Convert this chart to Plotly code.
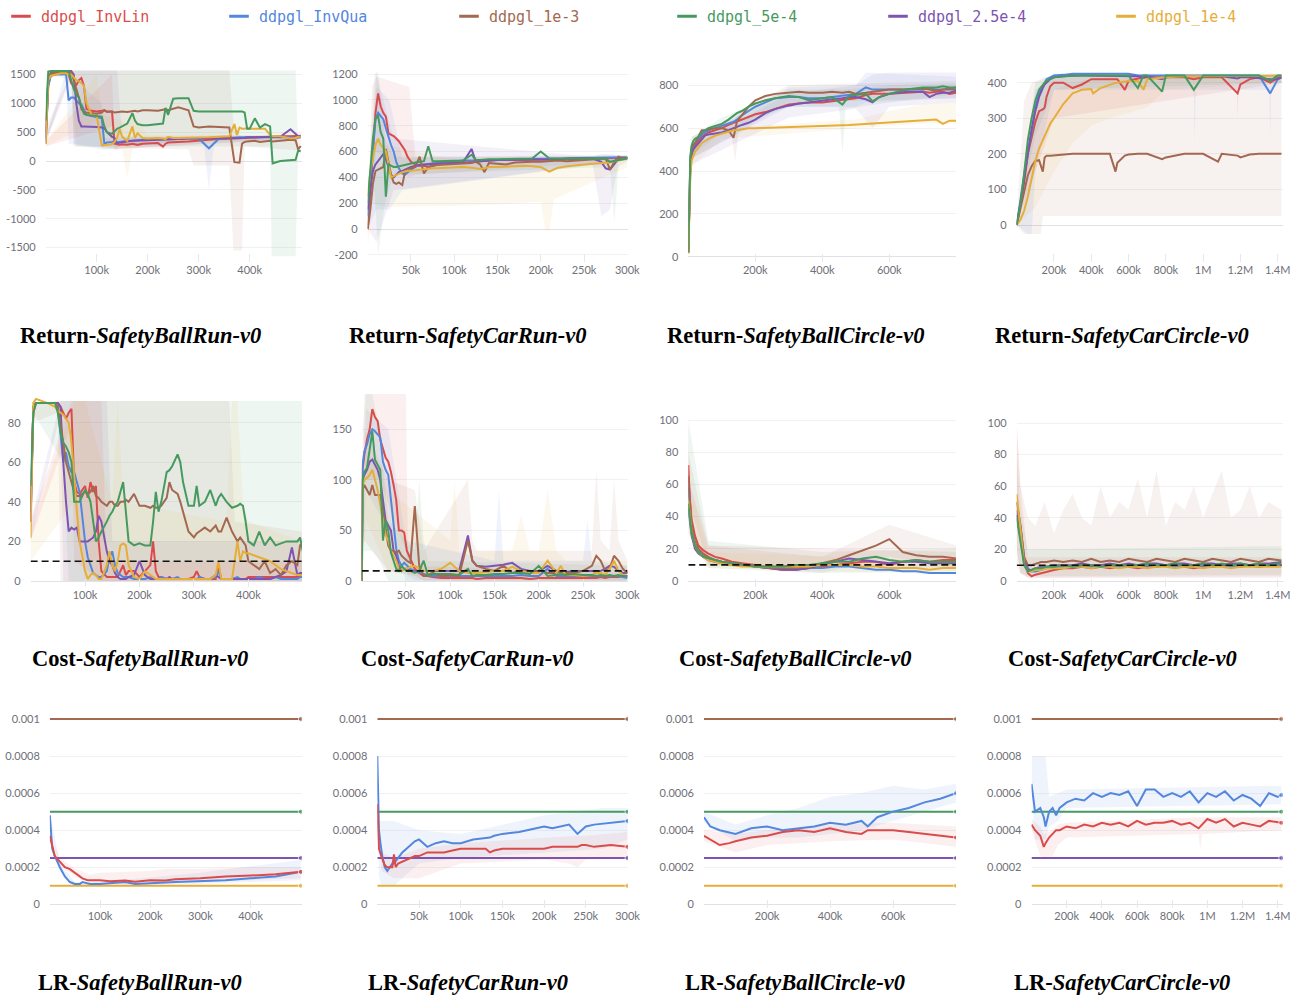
import plotly.graph_objects as go

W, H = 1304, 998

KEYS = ["InvLin", "InvQua", "1e-3", "5e-4", "2.5e-4", "1e-4"]
NAMES = ["ddpgl_InvLin", "ddpgl_InvQua", "ddpgl_1e-3", "ddpgl_5e-4", "ddpgl_2.5e-4", "ddpgl_1e-4"]
COLORS = {"InvLin": "#DA4C4C", "InvQua": "#5387DD", "1e-3": "#A46750",
          "5e-4": "#479A5F", "2.5e-4": "#7D54B2", "1e-4": "#E5AE38"}
DRAW_ORDER = ["InvLin", "InvQua", "2.5e-4", "1e-3", "1e-4", "5e-4"]

# ---------------- tick labels ----------------
XT_C1 = [100, 200, 300, 400]
XT_C2 = [50, 100, 150, 200, 250, 300]
XT_C3 = [200, 400, 600]
XT_C4 = [200, 400, 600, 800, 1000, 1200, 1400]
XTT_C1 = ["100k", "200k", "300k", "400k"]
XTT_C2 = ["50k", "100k", "150k", "200k", "250k", "300k"]
XTT_C3 = ["200k", "400k", "600k"]
XTT_C4 = ["200k", "400k", "600k", "800k", "1M", "1.2M", "1.4M"]
YT_R1C1 = [-1500, -1000, -500, 0, 500, 1000, 1500]
YT_R1C2 = [-200, 0, 200, 400, 600, 800, 1000, 1200]
YT_R1C3 = [0, 200, 400, 600, 800]
YT_R1C4 = [0, 100, 200, 300, 400]
YT_R2C1 = [0, 20, 40, 60, 80]
YT_R2C2 = [0, 50, 100, 150]
YT_R2C3 = [0, 20, 40, 60, 80, 100]
YT_R2C4 = [0, 20, 40, 60, 80, 100]
YT_LR = [0, 0.0002, 0.0004, 0.0006, 0.0008, 0.001]
YTT_LR = ["0", "0.0002", "0.0004", "0.0006", "0.0008", "0.001"]

COST_LIMIT = 10
LR_CONST = {"1e-3": 0.001, "5e-4": 0.0005, "2.5e-4": 0.00025, "1e-4": 0.0001}

# ---------------- Return - SafetyBallRun-v0 (steps in k) ----------------
RET_BR_X = [0,5,10,20,30,40,45,50,55,60,65,70,75,80,90,100,110,115,120,130,135,140,145,150,160,170,175,180,190,200,220,230,235,240,250,260,280,290,300,320,340,360,370,375,380,385,390,395,400,410,420,430,440,445,460,480,490,495,500]
RET_BR_INVLIN = [300,1300,1500,1520,1520,1520,1500,1350,1300,1320,1400,1440,1300,900,870,860,870,880,860,860,300,290,280,290,280,300,290,280,300,300,310,250,300,320,320,330,340,350,360,370,380,390,390,400,400,400,400,410,410,410,420,420,420,420,430,430,440,440,440]
RET_BR_INVQUA = [350,1300,1480,1500,1500,1500,1050,1100,1100,1050,1000,980,900,800,780,760,740,300,320,330,340,320,330,340,350,350,360,360,370,370,380,380,380,380,380,380,390,390,390,220,390,400,410,410,410,410,410,410,420,420,420,410,410,410,410,410,400,410,410]
RET_BR_1E3 = [500,1400,1520,1540,1540,1540,1540,1540,1400,1250,1100,900,850,840,830,820,840,880,850,860,840,850,860,860,850,860,870,860,880,880,870,890,900,880,900,930,880,600,580,600,590,580,-20,-30,-30,300,330,340,340,350,330,340,350,340,350,370,360,200,260]
RET_BR_5E4 = [700,1550,1560,1560,1560,1560,1560,1400,1250,1150,1100,950,820,800,790,780,770,600,500,470,520,560,580,600,650,830,700,640,620,620,640,650,920,800,1080,1090,1090,870,860,860,860,870,860,860,860,860,840,560,560,740,580,640,600,-40,0,10,20,180,170]
RET_BR_25E5 = [400,1400,1540,1560,1560,1560,1560,1560,1500,1000,700,600,600,600,590,590,580,570,500,420,400,310,320,330,340,350,350,350,360,360,370,370,370,380,380,380,390,390,400,400,400,400,400,400,400,400,400,410,410,410,410,410,410,410,420,550,460,430,430]
RET_BR_1E4 = [300,1400,1480,1500,1520,1520,1500,1500,1450,1400,1380,1350,1300,1000,800,780,270,270,280,290,330,400,550,420,350,600,400,480,400,390,400,390,380,420,400,400,400,400,400,410,420,430,640,450,580,560,560,570,560,560,550,560,450,430,430,390,400,420,420]
RET_BR_BANDS = {
    "1e-3": ([0,50,55,280,290,360,368,385,390,500], [300,1450,250,200,-80,-80,-1550,-1550,250,180], [560,1570,1570,1570,1570,1570,650,400,420,420]),
    "5e-4": ([0,5,50,60,440,443,490,495,500], [650,1500,1400,250,250,-1650,-1650,150,150], [750,1570,1570,1570,1570,1570,1570,200,190]),
    "2.5e-4": ([0,50,55,140,150,500], [350,1500,300,200,300,400], [450,1570,1570,1570,420,450]),
    "1e-4": ([0,100,110,150,160,170,200,500], [250,700,200,200,-300,200,300,380], [350,1500,800,700,650,800,450,450]),
    "InvQua": ([0,40,45,110,115,310,320,330,500], [300,1400,300,200,200,300,-500,300,380], [400,1560,1500,1000,400,420,420,420,430]),
    "InvLin": ([0,130,135,500], [250,600,200,400], [350,1500,350,460]),
}

# ---------------- Return - SafetyCarRun-v0 ----------------
RET_CR_X = [0,3,6,9,12,15,18,21,24,27,30,33,36,40,43,46,50,55,60,65,70,75,80,90,100,110,120,125,130,135,140,150,160,170,180,190,200,210,220,230,240,250,260,270,275,280,285,290,295,300]
RET_CR_INVLIN = [0,300,600,900,1050,950,900,870,740,730,720,700,680,640,610,560,520,500,490,490,480,490,500,505,510,515,520,525,525,530,530,535,535,535,540,540,540,540,540,540,540,545,545,545,545,545,550,550,550,550]
RET_CR_INVQUA = [100,350,650,850,900,870,850,780,710,650,600,520,470,430,420,440,460,480,500,500,505,510,510,515,525,530,530,530,530,530,535,535,540,540,540,540,545,540,545,545,550,550,550,550,550,550,550,550,555,555]
RET_CR_1E3 = [0,150,350,450,460,470,480,620,520,420,360,350,360,340,440,460,470,480,560,430,480,490,495,500,505,510,510,520,500,440,510,505,500,515,520,520,520,525,530,525,530,530,535,540,545,460,520,560,545,550]
RET_CR_5E4 = [200,450,700,850,880,750,700,250,500,490,480,480,485,490,500,505,510,515,520,525,640,525,525,525,530,530,575,535,535,540,540,540,540,540,540,545,600,545,545,545,545,545,550,550,545,520,530,535,540,545]
RET_CR_25E5 = [150,300,450,500,530,560,580,540,480,420,400,420,440,450,460,470,480,490,495,500,500,505,505,510,510,515,620,520,525,530,530,535,535,540,540,540,540,540,540,545,545,545,545,520,470,460,500,545,550,550]
RET_CR_1E4 = [250,450,550,650,700,650,630,600,500,400,410,420,430,440,445,450,450,455,460,465,470,470,470,475,480,480,475,470,465,470,480,480,485,490,490,485,480,445,475,485,495,500,505,510,510,515,525,530,540,545]
RET_CR_BANDS = {
    "InvLin": ([0,5,10,48,55,300], [-50,300,600,400,420,530], [50,1100,1180,1100,560,570]),
    "1e-4": ([0,5,20,100,150,200,205,210,215,300], [-150,200,170,180,190,210,0,-20,230,480], [260,700,650,540,530,540,540,540,540,560]),
    "2.5e-4": ([0,10,30,260,270,280,290,300], [0,-100,300,500,100,150,520,540], [200,1200,700,560,580,580,570,560]),
    "5e-4": ([0,8,12,20,30,280,285,290,300], [100,300,-200,200,420,480,50,480,520], [250,1200,1220,700,560,560,560,560,560]),
    "InvQua": ([0,10,25,40,300], [0,150,150,300,530], [200,1100,1000,550,570]),
}

# ---------------- Return - SafetyBallCircle-v0 ----------------
RET_BC_X = [0,3,6,10,15,20,30,40,50,60,80,100,120,135,145,160,180,200,230,260,300,330,360,400,430,460,480,500,530,550,570,600,650,700,720,740,760,780,800]
RET_BC_INVLIN = [20,280,430,490,510,520,540,560,570,580,590,600,615,625,630,640,655,665,675,690,710,715,720,720,725,730,735,740,755,760,760,760,765,770,765,770,770,760,765]
RET_BC_INVQUA = [20,300,440,500,520,530,550,570,580,590,600,610,620,630,640,660,680,700,720,740,745,745,740,740,745,750,755,760,790,780,780,780,780,780,785,780,780,785,790]
RET_BC_1E3 = [20,300,450,510,520,530,560,590,590,595,600,600,590,555,630,660,700,730,750,760,765,770,765,765,770,765,770,760,765,770,775,780,780,785,780,775,780,780,780]
RET_BC_5E4 = [20,320,470,520,540,550,560,580,590,600,610,620,640,660,670,680,700,715,730,740,750,745,730,740,745,710,750,755,760,725,745,760,780,790,790,790,795,790,790]
RET_BC_25E5 = [20,270,400,480,500,510,530,550,565,570,575,580,590,600,605,615,625,640,670,690,705,715,720,730,735,740,745,745,735,720,745,760,770,770,745,760,765,765,775]
RET_BC_1E4 = [15,200,380,450,475,490,510,530,540,550,565,575,585,590,590,595,600,600,602,604,606,607,608,610,612,614,615,617,620,622,625,627,630,635,637,640,620,635,635]
RET_BC_BANDS = {
    "1e-4": ([0,10,100,500,600,700,800], [0,420,550,600,610,620,620], [40,480,600,640,680,710,720]),
    "5e-4": ([0,10,100,300,450,460,470,600,800], [0,470,580,700,700,480,690,720,760], [40,560,650,780,780,780,780,800,810]),
    "2.5e-4": ([0,10,300,500,550,600,800], [0,430,650,690,600,700,720], [40,520,760,800,850,860,860]),
    "1e-3": ([0,10,130,140,150,300,800], [0,460,560,450,580,720,740], [40,560,640,650,680,800,820]),
    "InvQua": ([0,10,300,500,530,800], [0,460,700,700,720,740], [40,540,790,800,860,840]),
}

# ---------------- Return - SafetyCarCircle-v0 ----------------
RET_CC_X = [0,20,40,60,80,100,120,140,150,160,180,200,250,300,350,400,410,450,500,530,540,580,600,650,680,700,780,800,900,950,1000,1080,1100,1185,1200,1250,1300,1360,1400,1420]
RET_CC_INVLIN = [0,60,120,200,250,290,320,325,330,360,390,400,400,385,395,410,410,410,412,410,410,380,405,412,415,415,415,415,415,410,415,415,415,370,395,410,415,400,415,420]
RET_CC_INVQUA = [0,70,150,210,260,330,370,390,400,410,415,420,422,425,425,425,425,425,425,425,425,425,425,420,420,422,422,422,420,420,420,420,420,420,420,420,420,370,410,415]
RET_CC_1E3 = [0,50,100,140,165,180,182,150,190,195,195,196,198,200,200,200,198,198,200,150,175,195,198,200,200,200,185,190,200,200,200,178,200,195,190,198,200,200,200,200]
RET_CC_5E4 = [0,60,145,240,300,350,380,395,400,405,410,415,418,420,420,420,420,420,422,420,420,420,420,385,420,420,375,420,420,380,420,420,420,420,420,420,420,405,420,420]
RET_CC_25E5 = [0,55,130,200,270,320,360,385,395,400,410,415,418,420,420,420,420,420,420,420,418,418,418,418,415,418,410,415,418,418,420,418,418,412,415,415,412,410,410,415]
RET_CC_1E4 = [0,15,40,80,130,180,215,240,250,265,285,300,340,370,380,382,370,385,395,400,400,403,405,405,380,410,415,415,418,418,418,418,418,418,418,418,418,420,420,420]
RET_CC_BANDS = {
    "1e-3": ([0,40,80,130,140,150,200,1420], [0,-25,-25,-25,25,25,25,25], [10,350,400,410,415,415,420,420]),
    "1e-4": ([0,100,200,300,400,500,700,800,1420], [0,50,150,230,280,300,330,380,400], [10,300,380,400,410,415,420,420,422]),
    "InvLin": ([0,100,200,1180,1185,1190,1420], [0,150,300,380,300,380,400], [10,350,420,420,420,420,422]),
    "InvQua": ([0,60,80,100,200,950,955,960,1355,1360,1365,1420], [0,-25,-25,150,380,380,230,380,380,250,380,400], [10,250,300,380,425,425,425,425,425,425,425,425]),
    "5e-4": ([0,100,200,1420], [0,250,380,400], [10,400,425,425]),
}

# ---------------- Cost - SafetyBallRun-v0 ----------------
COST_BR_X = [0,5,10,20,30,45,50,55,60,65,70,75,80,85,90,100,105,110,115,120,125,130,140,145,150,155,160,165,170,175,180,190,200,210,220,225,230,235,240,250,255,260,270,275,280,290,300,305,310,320,330,340,345,350,360,370,380,385,390,395,400,410,420,430,440,450,460,470,480,490,495,500]
COST_BR_INVLIN = [30,88,90,90,90,90,90,88,85,82,85,87,50,45,44,48,42,50,45,48,20,5,2,2,2,2,2,5,8,3,5,5,2,5,8,20,5,2,2,1,1,1,1,1,1,1,2,5,2,1,1,1,8,1,1,1,1,1,1,1,2,2,2,2,2,2,2,2,2,2,2,2]
COST_BR_INVQUA = [35,88,90,90,90,90,88,75,60,65,58,55,55,50,45,20,12,8,4,3,2,2,5,12,15,8,4,3,2,2,2,1,1,1,2,1,1,1,2,1,1,1,2,1,1,1,1,1,2,1,1,2,5,1,1,1,2,1,1,1,1,1,2,1,1,2,1,1,1,1,2,2]
COST_BR_1E3 = [40,85,90,90,90,90,88,80,70,60,55,50,45,43,43,45,44,45,48,43,42,40,38,40,40,38,38,40,40,41,40,44,38,38,37,38,37,37,38,42,50,46,44,40,35,25,22,24,25,27,25,28,25,25,32,25,20,22,20,18,10,8,6,10,4,6,3,8,10,8,18,19]
COST_BR_5E4 = [48,85,90,90,90,90,85,75,70,68,65,60,40,40,40,46,44,40,30,20,22,25,30,33,35,38,40,45,50,35,20,18,19,18,18,30,45,35,40,55,56,58,64,60,50,38,38,48,38,40,46,38,42,44,40,37,38,39,38,30,20,18,25,18,22,18,19,20,20,20,22,15]
COST_BR_25E5 = [30,88,90,90,90,90,90,88,60,40,25,27,26,27,20,20,20,21,22,25,33,30,15,10,8,4,2,1,1,1,2,3,10,3,1,1,1,1,1,1,2,1,1,1,1,1,1,1,1,1,1,3,2,1,1,1,1,1,1,1,1,1,1,1,1,2,3,5,17,3,4,4]
COST_BR_1E4 = [22,90,92,91,90,88,86,85,84,82,80,70,50,35,20,5,1,3,4,3,1,1,8,15,8,5,10,18,19,18,8,2,1,5,3,2,1,1,1,1,1,1,1,1,1,1,1,1,1,1,1,3,10,1,1,1,20,10,15,14,14,13,12,11,10,8,6,5,4,3,3,3]
COST_BR_BANDS = {
    "1e-3": ([0,5,50,55,365,375,500], [20,80,85,0,0,0,0], [45,90,91,91,91,30,25]),
    "5e-4": ([0,5,60,70,500], [30,85,60,0,0], [50,90,91,91,91]),
    "2.5e-4": ([0,55,60,140,150,500], [20,85,0,0,0,0], [30,91,91,91,20,20]),
    "1e-4": ([0,80,100,150,160,170,360,370,380,390,400,500], [10,40,0,0,0,0,0,0,0,0,0,0], [25,91,91,40,91,40,30,91,91,40,30,20]),
    "InvLin": ([0,75,80,130,140,500], [20,80,10,0,0,0], [30,91,91,91,10,10]),
}

# ---------------- Cost - SafetyCarRun-v0 ----------------
COST_CR_X = [0,1,3,6,9,12,15,18,21,24,27,30,33,36,39,42,45,48,51,55,60,65,70,75,80,90,100,110,120,125,130,140,150,160,170,180,190,200,210,220,225,230,240,250,260,265,270,275,280,285,290,295,300]
COST_CR_INVLIN = [0,110,125,140,150,170,162,158,140,130,122,118,108,95,80,50,50,48,30,22,12,8,5,5,4,3,3,3,3,3,2,3,3,3,3,3,2,3,3,3,3,3,3,3,3,3,4,3,4,4,4,5,5]
COST_CR_INVQUA = [0,115,128,135,145,150,148,145,142,118,110,105,80,50,32,20,15,18,15,12,10,8,7,6,5,5,5,5,5,5,5,5,5,5,5,6,5,5,12,5,5,5,5,5,5,5,5,5,5,5,5,4,3]
COST_CR_1E3 = [0,90,95,90,85,95,85,85,85,70,50,35,30,30,28,30,25,22,20,18,74,15,5,6,8,5,6,5,40,20,15,12,10,15,8,10,8,10,8,8,9,8,8,10,15,25,20,10,12,25,20,12,8]
COST_CR_5E4 = [0,100,108,112,130,148,120,115,110,40,60,50,28,20,12,10,15,12,10,10,8,10,20,5,7,7,7,6,12,5,6,6,7,7,8,8,7,15,5,6,7,6,7,6,6,5,6,5,6,5,6,5,5]
COST_CR_25E5 = [0,100,105,110,118,120,115,110,100,80,60,55,50,30,25,15,10,12,12,10,10,10,10,10,10,10,10,10,45,20,15,14,15,16,18,12,10,10,15,10,10,9,10,10,10,9,10,12,15,14,10,8,8]
COST_CR_1E4 = [0,95,100,102,105,110,100,90,75,60,45,40,30,25,20,12,10,12,12,14,15,12,10,10,10,12,18,10,8,8,8,9,10,10,14,10,8,8,20,8,15,6,6,5,6,8,8,6,12,20,10,6,5]
COST_CR_BANDS = {
    "InvLin": ([0,1,5,20,50,52,60,300], [0,80,100,100,30,5,1,1], [0,150,185,185,185,30,15,8]),
    "5e-4": ([0,3,12,20,30,60,65,70,75,300], [0,30,30,20,0,0,0,0,0,0], [0,185,185,150,60,30,100,40,20,15]),
    "1e-3": ([0,3,30,60,70,120,125,130,260,265,270,280,285,290,300], [0,40,10,5,0,0,0,0,0,0,0,0,0,0,0], [0,150,100,90,30,100,40,30,30,110,40,30,100,40,20]),
    "1e-4": ([0,5,30,100,105,110,170,180,190,200,210,220,230,300], [0,60,10,0,0,0,0,0,0,0,0,0,0,0], [0,130,90,40,100,30,30,65,30,30,90,30,20,20]),
    "InvQua": ([0,5,30,50,150,155,160,250,255,260,300], [0,90,50,0,0,0,0,0,0,0,0], [0,170,150,40,20,90,20,20,60,20,15]),
}

# ---------------- Cost - SafetyBallCircle-v0 ----------------
COST_BC_X = [0,5,10,20,30,45,60,80,100,130,160,200,240,280,320,360,400,440,480,520,560,600,640,680,720,760,800]
COST_BC_INVLIN = [72,50,38,28,22,19,17,15,14,12,11,10,8,7,7,8,9,10,11,12,12,10,12,13,12,13,13]
COST_BC_INVQUA = [58,42,32,24,19,16,14,13,12,11,10,9,8,8,7,8,8,9,9,8,7,7,6,6,5,5,5]
COST_BC_1E3 = [65,45,33,24,20,17,15,13,12,11,10,9,8,8,8,9,11,13,16,19,22,26,18,16,15,15,14]
COST_BC_5E4 = [48,38,30,22,18,15,14,13,12,11,10,9,9,9,10,10,11,12,12,14,15,13,12,13,12,12,12]
COST_BC_25E5 = [45,36,28,20,17,15,13,12,11,10,10,9,8,7,7,8,10,12,14,13,12,11,12,12,11,11,11]
COST_BC_1E4 = [50,40,30,22,18,15,13,12,11,10,9,9,9,9,9,9,10,10,10,9,9,8,8,8,7,8,8]
COST_BC_BANDS = {
    "1e-3": ([0,60,400,600,800], [50,10,5,15,8], [80,22,15,35,22]),
    "5e-4": ([0,60,400,800], [30,8,5,6], [100,25,18,20]),
    "1e-4": ([0,60,800], [30,8,4], [60,18,12]),
    "InvLin": ([0,5,60,800], [50,30,10,8], [100,60,22,18]),
}

# ---------------- Cost - SafetyCarCircle-v0 ----------------
COST_CC_X = [0,20,40,60,80,100,130,160,200,250,300,350,400,450,500,550,600,650,700,750,800,850,900,950,1000,1050,1100,1150,1200,1250,1300,1350,1400,1420]
COST_CC_INVLIN = [45,30,12,5,3,4,5,6,7,8,8,9,8,9,8,9,9,8,9,9,10,9,9,8,9,9,10,9,9,10,9,10,10,10]
COST_CC_INVQUA = [50,35,15,8,6,6,7,8,8,9,9,10,9,9,10,9,10,9,10,9,10,9,10,9,10,9,10,9,10,10,9,10,10,10]
COST_CC_1E3 = [50,35,15,10,10,11,12,12,13,12,13,12,14,12,13,12,14,13,12,14,13,12,14,13,12,14,13,12,14,13,12,14,13,13]
COST_CC_5E4 = [40,25,10,6,7,8,8,9,9,10,9,10,10,9,10,10,10,10,11,10,10,11,10,10,11,10,11,10,11,10,11,10,11,11]
COST_CC_25E5 = [42,28,12,7,7,8,9,9,10,10,10,11,10,10,11,10,11,10,11,11,10,11,11,10,11,11,10,11,11,10,11,11,12,12]
COST_CC_1E4 = [55,30,10,6,6,7,7,8,8,8,9,9,8,9,9,8,9,9,8,9,9,8,9,9,8,9,9,8,9,9,9,9,9,9]
COST_CC_BANDS = {
    "1e-3": ([0,20,60,100,150,200,250,300,350,400,450,500,550,600,650,700,750,800,850,900,950,1000,1050,1100,1150,1200,1250,1300,1350,1420],
             [10,5,2,2,2,2,2,2,2,2,2,2,2,2,2,2,2,2,2,2,2,2,2,2,2,2,2,2,2,2],
             [100,60,40,35,50,30,45,55,40,35,60,40,50,45,65,40,70,35,50,45,60,40,55,70,40,45,60,40,50,45]),
    "InvLin": ([0,20,60,1420], [20,5,2,3], [100,60,15,15]),
    "5e-4": ([0,20,60,1420], [20,5,3,4], [80,45,20,22]),
}

# ---------------- LR panels ----------------
LR_BR_X = [0,5,10,20,30,40,50,60,65,75,80,100,120,150,170,200,230,250,300,350,400,450,500]
LR_BR_INVQUA = [0.00048,0.0003,0.00026,0.0002,0.00015,0.00012,0.00011,0.00011,0.00012,0.000115,0.00011,0.00011,0.000115,0.00012,0.00011,0.000112,0.000118,0.00012,0.000125,0.00013,0.00014,0.00015,0.000175]
LR_BR_INVLIN = [0.00037,0.00031,0.00026,0.00023,0.0002,0.00019,0.00017,0.00015,0.00014,0.00013,0.00013,0.00013,0.000125,0.000128,0.000122,0.00013,0.000128,0.000135,0.00014,0.00015,0.000155,0.000162,0.000175]
LR_BR_BANDS = {
    "InvLin": ([0,20,50,80,100,200,230,300,400,500], [0.00034,0.00021,0.00015,0.00012,0.00011,0.00011,0.00011,0.00012,0.00013,0.00014], [0.00039,0.00025,0.00019,0.00016,0.00017,0.00018,0.00019,0.00019,0.0002,0.0002]),
    "InvQua": ([0,20,50,100,300,500], [0.00045,0.00018,0.0001,0.0001,0.00011,0.00013], [0.0005,0.00022,0.00012,0.00012,0.00017,0.00024]),
}

LR_CR_X = [0,2,4,6,9,12,15,18,20,22,25,30,35,40,45,50,55,60,70,80,90,100,115,130,135,140,150,170,180,200,210,230,240,245,250,260,280,300]
LR_CR_INVQUA = [0.0008,0.0004,0.00032,0.00026,0.0002,0.00018,0.0002,0.00022,0.00022,0.00023,0.00025,0.00028,0.0003,0.00032,0.00034,0.00035,0.00033,0.00031,0.00033,0.00034,0.00033,0.00033,0.00035,0.00036,0.00036,0.00037,0.00038,0.00039,0.0004,0.00042,0.00041,0.00043,0.00038,0.0004,0.00042,0.00043,0.00044,0.00045]
LR_CR_INVLIN = [0.00054,0.0003,0.00027,0.00025,0.00021,0.0002,0.0002,0.0002,0.00027,0.0002,0.00022,0.00023,0.00024,0.00025,0.00026,0.00026,0.00027,0.00028,0.00028,0.00028,0.00029,0.0003,0.0003,0.0003,0.00028,0.00029,0.0003,0.0003,0.0003,0.0003,0.00031,0.00031,0.00031,0.00032,0.00032,0.00031,0.00032,0.00031]
LR_CR_BANDS = {
    "InvQua": ([0,2,5,20,50,100,200,270,300], [0.0008,0.00015,0.0001,0.0001,0.00022,0.00025,0.00028,0.0003,0.00035], [0.0008,0.00045,0.00045,0.00045,0.0004,0.00038,0.00048,0.00052,0.00052]),
    "InvLin": ([0,5,20,50,100,200,230,240,250,300], [0.00054,0.00018,0.00014,0.00014,0.00022,0.00024,0.00022,0.0002,0.00024,0.00025], [0.00054,0.00028,0.00025,0.0003,0.00033,0.00036,0.00037,0.00037,0.00037,0.00039]),
}

LR_BC_X = [0,20,50,80,100,150,200,250,300,350,400,450,500,520,550,600,650,700,750,800]
LR_BC_INVQUA = [0.00047,0.00042,0.0004,0.00039,0.00038,0.00041,0.00042,0.0004,0.00041,0.00042,0.00044,0.00043,0.00045,0.00042,0.00047,0.0005,0.00052,0.00055,0.00057,0.0006]
LR_BC_INVLIN = [0.00037,0.00035,0.00032,0.00033,0.00034,0.00036,0.00037,0.00039,0.0004,0.00039,0.00041,0.00039,0.00038,0.0004,0.0004,0.0004,0.00039,0.00038,0.00037,0.00036]
LR_BC_BANDS = {
    "InvQua": ([0,100,200,300,400,500,600,700,800], [0.00044,0.00034,0.00036,0.00036,0.00038,0.0004,0.00045,0.0005,0.00055], [0.0005,0.00043,0.00048,0.00052,0.00058,0.0006,0.00064,0.00062,0.00065]),
    "InvLin": ([0,100,200,400,600,800], [0.00034,0.00028,0.00032,0.00034,0.00035,0.00031], [0.0004,0.00038,0.0004,0.00043,0.00044,0.00042]),
}

LR_CC_X = [0,20,50,70,80,100,120,140,160,200,250,300,350,400,450,500,550,600,650,700,750,800,850,900,950,1000,1050,1100,1150,1200,1250,1300,1350,1400,1420]
LR_CC_INVQUA = [0.00065,0.0005,0.00052,0.00047,0.00042,0.0005,0.00052,0.00048,0.00052,0.00055,0.00057,0.00056,0.0006,0.00058,0.0006,0.00059,0.00061,0.00053,0.00062,0.00062,0.00058,0.0006,0.00058,0.00061,0.00055,0.0006,0.00058,0.00061,0.00056,0.00059,0.00057,0.00053,0.0006,0.00058,0.00059]
LR_CC_INVLIN = [0.00043,0.0004,0.00037,0.00031,0.00033,0.00036,0.00038,0.0004,0.0004,0.00042,0.00041,0.00043,0.00042,0.00044,0.00043,0.00044,0.00042,0.00045,0.00043,0.00044,0.00044,0.00045,0.00043,0.00044,0.00041,0.00046,0.00044,0.00046,0.00042,0.00044,0.00043,0.00042,0.00045,0.00044,0.00044]
LR_CC_BANDS = {
    "InvQua": ([0,20,80,100,150,200,1420], [0.0006,0.00035,0.00035,0.00042,0.00045,0.00052,0.00054], [0.0008,0.0008,0.0008,0.00058,0.0006,0.00062,0.00064]),
    "InvLin": ([0,50,70,120,150,200,950,960,970,1420], [0.0004,0.00026,0.00025,0.00026,0.00032,0.00036,0.00038,0.00029,0.00038,0.0004], [0.00046,0.00042,0.00038,0.0004,0.00043,0.00044,0.00047,0.00047,0.00047,0.00047]),
}

# ---------------- panel definitions ----------------
# geo: (left px where step=0, px per k-step, right px, px of y=0, px per unit, top px, bottom px)
R1, R2, R3 = (68, 262), (394, 587), (705, 908)
PANELS = [
    dict(t=("Return-", "SafetyBallRun-v0"), x=RET_BR_X,
         s={"InvLin": RET_BR_INVLIN, "InvQua": RET_BR_INVQUA, "1e-3": RET_BR_1E3, "5e-4": RET_BR_5E4, "2.5e-4": RET_BR_25E5, "1e-4": RET_BR_1E4},
         b=RET_BR_BANDS, xt=(XT_C1, XTT_C1), yt=(YT_R1C1, None), geo=(45.7, 0.51, 302, 161, 86.5 / 1500) + R1),
    dict(t=("Return-", "SafetyCarRun-v0"), x=RET_CR_X,
         s={"InvLin": RET_CR_INVLIN, "InvQua": RET_CR_INVQUA, "1e-3": RET_CR_1E3, "5e-4": RET_CR_5E4, "2.5e-4": RET_CR_25E5, "1e-4": RET_CR_1E4},
         b=RET_CR_BANDS, xt=(XT_C2, XTT_C2), yt=(YT_R1C2, None), geo=(367.7, 0.8653, 628, 229, 155 / 1200) + R1),
    dict(t=("Return-", "SafetyBallCircle-v0"), x=RET_BC_X,
         s={"InvLin": RET_BC_INVLIN, "InvQua": RET_BC_INVQUA, "1e-3": RET_BC_1E3, "5e-4": RET_BC_5E4, "2.5e-4": RET_BC_25E5, "1e-4": RET_BC_1E4},
         b=RET_BC_BANDS, xt=(XT_C3, XTT_C3), yt=(YT_R1C3, None), geo=(688.3, 0.335, 956, 256.7, 171.4 / 800) + R1),
    dict(t=("Return-", "SafetyCarCircle-v0"), x=RET_CC_X,
         s={"InvLin": RET_CC_INVLIN, "InvQua": RET_CC_INVQUA, "1e-3": RET_CC_1E3, "5e-4": RET_CC_5E4, "2.5e-4": RET_CC_25E5, "1e-4": RET_CC_1E4},
         b=RET_CC_BANDS, xt=(XT_C4, XTT_C4), yt=(YT_R1C4, None), geo=(1016.7, 0.18641, 1283, 225, 142.3 / 400) + R1),
    dict(t=("Cost-", "SafetyBallRun-v0"), x=COST_BR_X, cost=True,
         s={"InvLin": COST_BR_INVLIN, "InvQua": COST_BR_INVQUA, "1e-3": COST_BR_1E3, "5e-4": COST_BR_5E4, "2.5e-4": COST_BR_25E5, "1e-4": COST_BR_1E4},
         b=COST_BR_BANDS, xt=(XT_C1, XTT_C1), yt=(YT_R2C1, None), geo=(30.6, 0.5444, 302, 581, 1.979) + R2),
    dict(t=("Cost-", "SafetyCarRun-v0"), x=COST_CR_X, cost=True,
         s={"InvLin": COST_CR_INVLIN, "InvQua": COST_CR_INVQUA, "1e-3": COST_CR_1E3, "5e-4": COST_CR_5E4, "2.5e-4": COST_CR_25E5, "1e-4": COST_CR_1E4},
         b=COST_CR_BANDS, xt=(XT_C2, XTT_C2), yt=(YT_R2C2, None), geo=(361.7, 0.8853, 628, 581, 1.0113) + R2),
    dict(t=("Cost-", "SafetyBallCircle-v0"), x=COST_BC_X, cost=True,
         s={"InvLin": COST_BC_INVLIN, "InvQua": COST_BC_INVQUA, "1e-3": COST_BC_1E3, "5e-4": COST_BC_5E4, "2.5e-4": COST_BC_25E5, "1e-4": COST_BC_1E4},
         b=COST_BC_BANDS, xt=(XT_C3, XTT_C3), yt=(YT_R2C3, None), geo=(688.3, 0.335, 956, 581, 1.61) + R2),
    dict(t=("Cost-", "SafetyCarCircle-v0"), x=COST_CC_X, cost=True,
         s={"InvLin": COST_CC_INVLIN, "InvQua": COST_CC_INVQUA, "1e-3": COST_CC_1E3, "5e-4": COST_CC_5E4, "2.5e-4": COST_CC_25E5, "1e-4": COST_CC_1E4},
         b=COST_CC_BANDS, xt=(XT_C4, XTT_C4), yt=(YT_R2C4, None), geo=(1016.7, 0.18641, 1283, 581, 1.58) + R2),
    dict(t=("LR-", "SafetyBallRun-v0"), x=LR_BR_X, lr=True,
         s={"InvLin": LR_BR_INVLIN, "InvQua": LR_BR_INVQUA},
         b=LR_BR_BANDS, xt=(XT_C1, XTT_C1), yt=(YT_LR, YTT_LR), geo=(49.8, 0.502, 302, 904.3, 185.3 / 0.001) + R3),
    dict(t=("LR-", "SafetyCarRun-v0"), x=LR_CR_X, lr=True,
         s={"InvLin": LR_CR_INVLIN, "InvQua": LR_CR_INVQUA},
         b=LR_CR_BANDS, xt=(XT_C2, XTT_C2), yt=(YT_LR, YTT_LR), geo=(377.3, 0.834, 628, 904.3, 185.3 / 0.001) + R3),
    dict(t=("LR-", "SafetyBallCircle-v0"), x=LR_BC_X, lr=True,
         s={"InvLin": LR_BC_INVLIN, "InvQua": LR_BC_INVQUA},
         b=LR_BC_BANDS, xt=(XT_C3, XTT_C3), yt=(YT_LR, YTT_LR), geo=(704, 0.315, 956, 904.3, 185.3 / 0.001) + R3),
    dict(t=("LR-", "SafetyCarCircle-v0"), x=LR_CC_X, lr=True,
         s={"InvLin": LR_CC_INVLIN, "InvQua": LR_CC_INVQUA},
         b=LR_CC_BANDS, xt=(XT_C4, XTT_C4), yt=(YT_LR, YTT_LR), geo=(1031.5, 0.17585, 1283, 904.3, 185.3 / 0.001) + R3),
]
TITLE_CX = [140, 467.5, 795, 1122]
TITLE_CY = [335, 658, 982]
LEGEND_SYMBOL_X = [15, 233, 463, 681, 892, 1120]

TICKFONT = dict(family="Lato, 'Open Sans', sans-serif", size=11, color="#6f6f78")


def rgba(hexc, a):
    h = hexc.lstrip("#")
    return "rgba(%d,%d,%d,%.3f)" % (int(h[0:2], 16), int(h[2:4], 16), int(h[4:6], 16), a)


fig = go.Figure()
layout = {}
annotations = []

for i, p in enumerate(PANELS):
    n = "" if i == 0 else str(i + 1)
    xa, ya = "x" + n, "y" + n
    x0, pxk, right, zero, pxu, top, bot = p["geo"]
    xr = [0, (right - x0) / pxk]
    yr = [(zero - bot) / pxu, (zero - top) / pxu]
    yvals, ytext = p["yt"]
    layout["xaxis" + n] = dict(domain=[x0 / W, right / W], range=xr, anchor=ya,
                               tickvals=p["xt"][0], ticktext=p["xt"][1],
                               showgrid=False, zeroline=False, showline=False,
                               ticks="inside", ticklen=8, tickcolor="#e8e8ec", tickwidth=1,
                               tickfont=TICKFONT, fixedrange=True, automargin=False)
    layout["yaxis" + n] = dict(domain=[1 - bot / H, 1 - top / H], range=yr, anchor=xa,
                               tickvals=yvals, ticktext=ytext if ytext else [str(v) for v in yvals],
                               showgrid=True, gridcolor="#f1f1f3", gridwidth=1,
                               zeroline=True, zerolinecolor="#e2e2e6", zerolinewidth=1,
                               showline=False, ticks="", tickfont=TICKFONT,
                               ticklabelstandoff=9, fixedrange=True, automargin=False)
    X = p["x"]
    # shaded min/max bands
    for key, (bx, lo, hi) in p["b"].items():
        assert len(bx) == len(lo) == len(hi), (i, key)
        fig.add_trace(go.Scatter(x=list(bx) + list(bx)[::-1], y=list(hi) + list(lo)[::-1],
                                 fill="toself", fillcolor=rgba(COLORS[key], 0.09),
                                 line=dict(width=0), mode="lines", hoverinfo="skip",
                                 showlegend=False, xaxis=xa, yaxis=ya))
    if p.get("lr"):
        for key in ["1e-3", "5e-4", "2.5e-4", "1e-4"]:
            fig.add_trace(go.Scatter(x=[X[0], X[-1]], y=[LR_CONST[key], LR_CONST[key]],
                                     mode="lines+markers", line=dict(color=COLORS[key], width=2),
                                     marker=dict(size=[0, 5], color=COLORS[key]),
                                     showlegend=False, hoverinfo="skip", xaxis=xa, yaxis=ya))
        for key in ["InvQua", "InvLin"]:
            ys = p["s"][key]
            assert len(ys) == len(X), (i, key)
            fig.add_trace(go.Scatter(x=X, y=ys, mode="lines+markers",
                                     line=dict(color=COLORS[key], width=2),
                                     marker=dict(size=[0] * (len(X) - 1) + [5], color=COLORS[key]),
                                     showlegend=False, hoverinfo="skip", xaxis=xa, yaxis=ya))
    else:
        for key in DRAW_ORDER:
            ys = p["s"][key]
            assert len(ys) == len(X), (i, key, len(ys), len(X))
            fig.add_trace(go.Scatter(x=X, y=ys, mode="lines",
                                     line=dict(color=COLORS[key], width=2),
                                     showlegend=False, hoverinfo="skip", xaxis=xa, yaxis=ya))
    if p.get("cost"):
        fig.add_trace(go.Scatter(x=[X[0], X[-1]], y=[COST_LIMIT, COST_LIMIT], mode="lines",
                                 line=dict(color="#111111", width=1.6, dash="7px,4px"),
                                 showlegend=False, hoverinfo="skip", xaxis=xa, yaxis=ya))
    r, c = divmod(i, 4)
    annotations.append(dict(text="<b>%s<i>%s</i></b>" % p["t"], x=TITLE_CX[c] / W, y=1 - TITLE_CY[r] / H,
                            xref="paper", yref="paper", xanchor="center", yanchor="middle", showarrow=False,
                            font=dict(family="Liberation Serif, 'DejaVu Serif', serif", size=22.5, color="#000000")))

# legend entries: one legend box per entry so each sits where the reference puts it
legends = {}
for j, (key, name) in enumerate(zip(KEYS, NAMES)):
    c = COLORS[key]
    lg = "legend" if j == 0 else "legend%d" % (j + 1)
    fig.add_trace(go.Scatter(x=[None], y=[None], mode="markers",
                             marker=dict(symbol="line-ew", size=14, color=c, line=dict(width=3, color=c)),
                             name="<span style='color:%s'>%s</span>" % (c, name),
                             showlegend=True, legend=lg, xaxis="x", yaxis="y"))
    legends[lg] = dict(orientation="h", x=(LEGEND_SYMBOL_X[j] - 14) / W, y=1.0,
                       xanchor="left", yanchor="top",
                       font=dict(family="'DejaVu Sans Mono', monospace", size=15),
                       bgcolor="rgba(0,0,0,0)", itemclick=False, itemdoubleclick=False)

fig.update_layout(
    width=W, height=H, autosize=False,
    margin=dict(l=0, r=0, t=0, b=0, autoexpand=False),
    paper_bgcolor="white", plot_bgcolor="white",
    showlegend=True,
    annotations=annotations,
    hovermode=False,
    **legends,
    **layout,
)

fig.write_html("out.html", config={"displayModeBar": False, "staticPlot": False},
               post_script="document.body.style.margin='0';document.body.style.padding='0';")
